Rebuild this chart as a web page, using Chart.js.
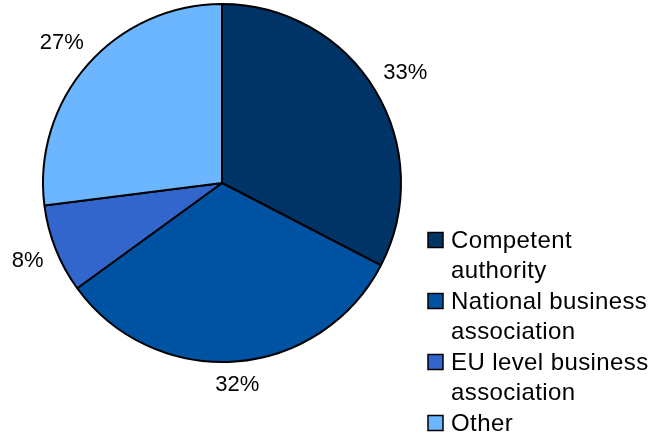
<!DOCTYPE html>
<html>
<head>
<meta charset="utf-8">
<script src="https://cdn.jsdelivr.net/npm/chart.js@4"></script>
<style>
  html, body { margin: 0; padding: 0; background: #fff; }
  #wrap { width: 655px; height: 441px; }
</style>
</head>
<body>
<div id="wrap"><canvas id="myChart" width="655" height="441"></canvas></div>
<script>
var categories = ["Competent authority", "National business association", "EU level business association", "Other"];
var legendLines = [["Competent", "authority"], ["National business", "association"], ["EU level business", "association"], ["Other"]];
var shares = [32.6, 32.4, 8.0, 27.0];
var colors = ["#003366", "#0052A3", "#3366CC", "#6CB6FF"];

var fontFamily = "'Liberation Sans', Arial, sans-serif";

// draws percent labels outside the slices and the legend on the right
var outsideLabels = {
  id: "outsideLabels",
  afterDraw: function (chart) {
    var ctx = chart.ctx;
    var meta = chart.getDatasetMeta(0);
    ctx.save();
    ctx.fillStyle = "#000";
    ctx.font = "22px " + fontFamily;
    ctx.textAlign = "center";
    ctx.textBaseline = "middle";
    var total = shares.reduce(function (a, b) { return a + b; }, 0);
    meta.data.forEach(function (arc, i) {
      var p = arc.getProps(["x", "y", "startAngle", "endAngle", "outerRadius"], true);
      var mid = (p.startAngle + p.endAngle) / 2;
      var txt = Math.round(shares[i] / total * 100) + "%";
      var hw = ctx.measureText(txt).width / 2;
      var hh = 9;
      var c = Math.cos(mid), s = Math.sin(mid);
      var ext = Math.abs(c) * hw + Math.abs(s) * hh;
      var d = p.outerRadius + 12 + ext;
      ctx.fillText(txt, p.x + c * d, p.y + s * d + 1);
    });

    // legend
    ctx.font = "24px " + fontFamily;
    ctx.textAlign = "left";
    ctx.letterSpacing = "0.4px";
    var top = 240, itemGap = 61, lineGap = 30;
    legendLines.forEach(function (lines, i) {
      var y = top + i * itemGap;
      ctx.fillStyle = colors[i];
      ctx.fillRect(428, y - 7.5, 15, 15);
      ctx.strokeStyle = "#000";
      ctx.lineWidth = 1.5;
      ctx.strokeRect(428, y - 7.5, 15, 15);
      ctx.fillStyle = "#000";
      lines.forEach(function (ln, j) {
        ctx.fillText(ln, 451, y + j * lineGap + 1);
      });
    });
    ctx.restore();
  }
};

var ctx = document.getElementById("myChart").getContext("2d");
var myChart = new Chart(ctx, {
  type: "pie",
  data: {
    labels: categories,
    datasets: [
      {
        data: shares,
        backgroundColor: colors,
        borderColor: "#000",
        borderWidth: 2,
      },
    ],
  },
  options: {
    responsive: false,
    animation: false,
    radius: 179,
    layout: {
      padding: { left: 43, right: 254, top: 4, bottom: 79 },
    },
    plugins: {
      legend: { display: false },
      tooltip: { enabled: false },
    },
  },
  plugins: [outsideLabels],
});
</script>
</body>
</html>
